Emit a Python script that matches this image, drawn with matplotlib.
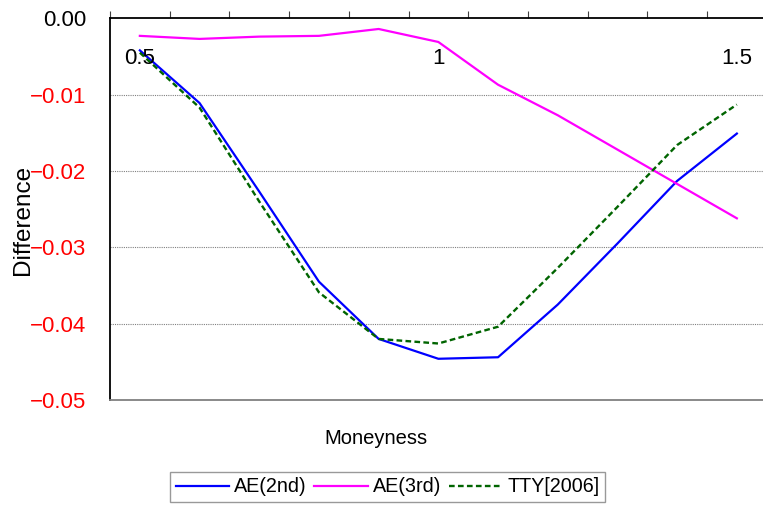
import matplotlib
matplotlib.use("Agg")
import matplotlib.pyplot as plt
import matplotlib.transforms as mtransforms

plt.rcParams['font.family'] = ['Liberation Sans', 'DejaVu Sans']

moneyness = [0.5, 0.6, 0.7, 0.8, 0.9, 1.0, 1.1, 1.2, 1.3, 1.4, 1.5]
x_labels = {0.5: "0.5", 1.0: "1", 1.5: "1.5"}
ae2 = [-0.0042, -0.0111, -0.0227, -0.0345, -0.0420, -0.0446, -0.0444, -0.0375, -0.0295, -0.0213, -0.0151]
ae3 = [-0.0023, -0.0027, -0.0024, -0.0023, -0.0014, -0.0031, -0.0087, -0.0127, -0.0172, -0.0217, -0.0262]
tty = [-0.0045, -0.0117, -0.0240, -0.0359, -0.0420, -0.0426, -0.0404, -0.0327, -0.0247, -0.0166, -0.0113]
y_ticks = [0.00, -0.01, -0.02, -0.03, -0.04, -0.05]
y_tick_labels = ["0.00", "\u22120.01", "\u22120.02", "\u22120.03", "\u22120.04", "\u22120.05"]
series_names = ["AE(2nd)", "AE(3rd)", "TTY[2006]"]

W, H = 763, 507
fig = plt.figure(figsize=(W / 100, H / 100), dpi=100)
left, right, top, bottom = 110, 766.7, 18.3, 400
ax = fig.add_axes([left / W, 1 - bottom / H, (right - left) / W, (bottom - top) / H])

pos = list(range(len(moneyness)))
l1, = ax.plot(pos, ae2, color='#0000FF', lw=1.6)
l2, = ax.plot(pos, ae3, color='#FF00FF', lw=1.6)
l3, = ax.plot(pos, tty, color='#006400', lw=1.7, linestyle=(0, (2.4, 1.4)))

ax.set_xlim(-0.5, len(moneyness) - 0.5)
ax.set_ylim(-0.05, 0.0)

# grid
for yv in y_ticks[1:-1]:
    ax.axhline(yv, color='#808080', lw=0.8, linestyle=(0, (1, 1)), zorder=0)

# spines
ax.spines['right'].set_visible(False)
ax.spines['left'].set_color('black')
ax.spines['left'].set_linewidth(1.3)
ax.spines['top'].set_color('black')
ax.spines['top'].set_linewidth(1.3)
ax.spines['bottom'].set_color('#808080')
ax.spines['bottom'].set_linewidth(1.3)

# x ticks at category boundaries, on top, pointing up
ax.set_xticks([p - 0.5 for p in pos] + [len(pos) - 0.5])
ax.tick_params(axis='x', which='both', top=True, bottom=False, labeltop=False,
               labelbottom=False, direction='out', length=5, width=0.8, color='#404040')

# x category labels inside plot below the top axis
trans = mtransforms.blended_transform_factory(ax.transData, ax.transAxes)
for p, m in zip(pos, moneyness):
    if m in x_labels:
        ax.text(p, 1 - (59 - top) / (bottom - top), x_labels[m], transform=trans,
                ha='center', va='center', fontsize=16, color='black')

# y ticks
ax.set_yticks(y_ticks)
ax.set_yticklabels(y_tick_labels)
ax.tick_params(axis='y', length=0, pad=17, labelsize=16)
for i, t in enumerate(ax.get_yticklabels()):
    t.set_color('black' if i == 0 else '#FF0000')

fig.text(23 / W, 1 - 220 / H, "Difference", rotation=90, ha='center', va='center', fontsize=17.5)
fig.text(376 / W, 1 - 438 / H, "Moneyness", ha='center', va='center', fontsize=14.5)

leg = fig.legend([l1, l2, l3], series_names, ncol=3, loc='center',
                 bbox_to_anchor=(387.5 / W, 1 - 487 / H),
                 prop={'size': 14.2},
                 frameon=True, fancybox=False, handlelength=2.7,
                 handletextpad=0.25, columnspacing=0.4,
                 borderpad=0.3, borderaxespad=0)
leg.get_frame().set_edgecolor('#808080')
leg.get_frame().set_linewidth(1.0)

fig.savefig("out.png", dpi=100)
